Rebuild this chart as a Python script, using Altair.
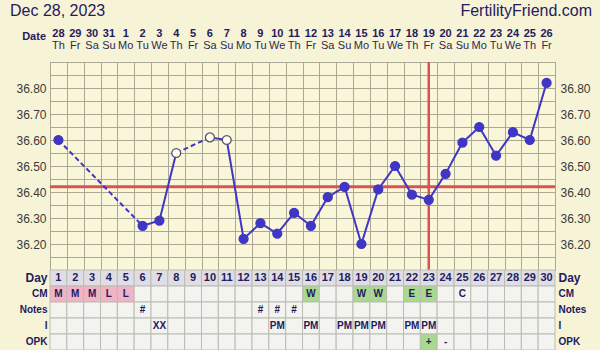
import json
import altair as alt
import pandas as pd

# ---------------- data ----------------
days = list(range(1, 31))
dates = ["28", "29", "30", "31", "1", "2", "3", "4", "5", "6", "7", "8", "9", "10", "11",
         "12", "13", "14", "15", "16", "17", "18", "19", "20", "21", "22", "23", "24", "25", "26"]
weekdays = ["Th", "Fr", "Sa", "Su", "Mo", "Tu", "We", "Th", "Fr", "Sa", "Su", "Mo", "Tu", "We", "Th",
            "Fr", "Sa", "Su", "Mo", "Tu", "We", "Th", "Fr", "Sa", "Su", "Mo", "Tu", "We", "Th", "Fr"]
temps = [36.60, None, None, None, None, 36.27, 36.29, 36.55, None, 36.61,
         36.60, 36.22, 36.28, 36.24, 36.32, 36.27, 36.38, 36.42, 36.20, 36.41,
         36.50, 36.39, 36.37, 36.47, 36.59, 36.65, 36.54, 36.63, 36.60, 36.82]
open_days = [8, 10, 11]
coverline = 36.42
ovulation_day = 23
y_labels = [36.20, 36.30, 36.40, 36.50, 36.60, 36.70, 36.80]
y_domain = [36.10, 36.90]

table_rows = ["Day", "CM", "Notes", "I", "OPK"]
cm_days = [1, 2, 3, 4, 5, 16, 19, 20, 22, 23, 25]
cm_vals = ["M", "M", "M", "L", "L", "W", "W", "W", "E", "E", "C"]
notes_days = [6, 13, 14, 15]
notes_vals = ["#", "#", "#", "#"]
i_days = [7, 14, 16, 18, 19, 20, 22, 23]
i_vals = ["XX", "PM", "PM", "PM", "PM", "PM", "PM", "PM"]
opk_days = [23, 24]
opk_vals = ["+", "-"]

title_text = "Dec 28, 2023"
site_text = "FertilityFriend.com"
date_label = "Date"

# ---------------- styles ----------------
FONT = "Liberation Sans"
NAVY = "#241a5e"
BG = "#f7f3d6"
PLOT_BG = "#faf6da"
GRID = "#aba894"
RED = "#d9534f"
BLUE = "#4036c4"
TBL_GRID = "#bcbbb3"
W = 505

# ---------------- frames ----------------
rec = [(d, t) for d, t in zip(days, temps) if t is not None]
seg_rows = []
for k in range(len(rec) - 1):
    (d0, t0), (d1, t1) = rec[k], rec[k + 1]
    kind = "solid" if d1 - d0 == 1 else "dash"
    seg_rows.append(dict(seg=k, day=d0, temp=t0, kind=kind))
    seg_rows.append(dict(seg=k, day=d1, temp=t1, kind=kind))
df_seg = pd.DataFrame(seg_rows)
df_pts = pd.DataFrame([dict(day=d, temp=t, kind="open" if d in open_days else "filled") for d, t in rec])
df_cover = pd.DataFrame({"temp": [coverline]})
df_ov = pd.DataFrame({"day": [ovulation_day]})

row_entries = {
    "CM": dict(zip(cm_days, cm_vals)),
    "Notes": dict(zip(notes_days, notes_vals)),
    "I": dict(zip(i_days, i_vals)),
    "OPK": dict(zip(opk_days, opk_vals)),
}
fill_of = {"M": "pink", "L": "pink", "W": "green", "E": "green", "+": "green"}
cells = []
for r in table_rows:
    for d in days:
        if r == "Day":
            txt, cat = str(d), "day"
        else:
            txt = row_entries[r].get(d, "")
            cat = fill_of.get(txt, "plain") if r in ("CM", "OPK") else "plain"
        cells.append(dict(row=r, day=d, x1=d - 0.5, x2=d + 0.5, txt=txt, cat=cat))
df_cells = pd.DataFrame(cells)
df_day = df_cells[df_cells.row == "Day"]
df_ann = df_cells[(df_cells.row != "Day") & (df_cells.txt != "")]

df_dates = pd.DataFrame({"day": days, "date": dates, "wd": weekdays})

# ---------------- scales / axes ----------------
xscale = alt.Scale(domain=[0.5, 30.5], nice=False, zero=False)
yscale = alt.Scale(domain=y_domain, nice=False, zero=False)
grid_x = [d - 0.5 for d in days] + [days[-1] + 0.5]
grid_y = [round(y_domain[0] + 0.05 * i, 2) for i in range(17)]
lab_strings = json.dumps([f"{v:.2f}" for v in y_labels])
label_expr = f"indexof({lab_strings}, format(datum.value, '.2f')) >= 0 ? format(datum.value, '.2f') : ''"

x_grid_axis = alt.Axis(values=grid_x, grid=True, labels=False, ticks=False, domain=False,
                       title=None, gridColor=GRID, gridOpacity=1, gridWidth=1)
left_axis = alt.Axis(orient="left", values=grid_y, grid=True, gridColor=GRID, gridOpacity=1,
                     gridWidth=1, labelExpr=label_expr, ticks=False, domain=False, title=None,
                     labelFont=FONT, labelFontSize=12, labelColor="#3a3a3a", labelPadding=4)
right_axis = alt.Axis(orient="right", values=y_labels, grid=False, format=".2f", ticks=False,
                      domain=False, title=None, labelFont=FONT, labelFontSize=12,
                      labelColor="#3a3a3a", labelPadding=5)

# ---------------- header ----------------
one = pd.DataFrame({"a": [1]})
hdr_title = alt.Chart(one).mark_text(align="left", baseline="alphabetic", font=FONT, fontSize=16,
                                     color=NAVY, text=title_text).encode(
    x=alt.value(-40), y=alt.value(15))
hdr_site = alt.Chart(one).mark_text(align="right", baseline="alphabetic", font=FONT, fontSize=16,
                                    color=NAVY, text=site_text).encode(
    x=alt.value(W + 37), y=alt.value(15))
hdr_datelab = alt.Chart(one).mark_text(align="right", baseline="alphabetic", font=FONT, fontSize=11,
                                       fontWeight="bold", color=NAVY, text=date_label).encode(
    x=alt.value(-4), y=alt.value(39))
hdr_dates = alt.Chart(df_dates).mark_text(baseline="alphabetic", font=FONT, fontSize=11,
                                          fontWeight="bold", color=NAVY).encode(
    x=alt.X("day:Q", scale=xscale, axis=None), y=alt.value(36), text="date:N")
hdr_wd = alt.Chart(df_dates).mark_text(baseline="alphabetic", font=FONT, fontSize=11,
                                       color="#2c2a55").encode(
    x=alt.X("day:Q", scale=xscale, axis=None), y=alt.value(48), text="wd:N")
header = alt.layer(hdr_title, hdr_site, hdr_datelab, hdr_dates, hdr_wd).properties(
    width=W, height=61, view=alt.ViewBackground(stroke="transparent", fill="transparent"))

# ---------------- plot ----------------
hline = alt.Chart(df_cover).mark_rule(color=RED, strokeWidth=3).encode(
    y=alt.Y("temp:Q", scale=yscale, axis=left_axis))
vline = alt.Chart(df_ov).mark_rule(color=RED, strokeWidth=2.5).encode(
    x=alt.X("day:Q", scale=xscale, axis=x_grid_axis))
lines = alt.Chart(df_seg).mark_line(color=BLUE, strokeWidth=2).encode(
    x=alt.X("day:Q", scale=xscale, axis=x_grid_axis),
    y=alt.Y("temp:Q", scale=yscale, axis=None),
    detail="seg:N",
    strokeDash=alt.StrokeDash("kind:N", scale=alt.Scale(domain=["solid", "dash"],
                                                         range=[[1, 0], [5, 3]]), legend=None))
points = alt.Chart(df_pts).mark_point(shape="circle", filled=True, size=80, opacity=1,
                                      strokeWidth=1.3).encode(
    x=alt.X("day:Q", scale=xscale, axis=x_grid_axis),
    y=alt.Y("temp:Q", scale=yscale, axis=right_axis),
    fill=alt.Fill("kind:N", scale=alt.Scale(domain=["filled", "open"], range=[BLUE, "#fffdf4"]),
                  legend=None),
    stroke=alt.Stroke("kind:N", scale=alt.Scale(domain=["filled", "open"], range=[BLUE, "#55556a"]),
                      legend=None))
plot = alt.layer(hline, vline, lines, points).resolve_axis(y="independent").properties(
    width=W, height=208, view=alt.ViewBackground(fill=PLOT_BG, stroke=GRID, strokeWidth=1))

# ---------------- table ----------------
rowscale = alt.Scale(domain=table_rows, paddingInner=0, paddingOuter=0)
row_font_size = {"condition": {"test": "datum.value == 'Day'", "value": 12}, "value": 10}
tbl_left = alt.Axis(orient="left", ticks=False, domain=False, title=None, labelFont=FONT,
                    labelFontSize=row_font_size, labelFontWeight="bold", labelColor=NAVY,
                    labelPadding=3)
tbl_right = alt.Axis(orient="right", ticks=False, domain=False, title=None, labelFont=FONT,
                     labelFontSize=row_font_size, labelFontWeight="bold", labelColor=NAVY,
                     labelPadding=3)
cells_l = alt.Chart(df_cells).mark_rect(stroke=TBL_GRID, strokeWidth=1).encode(
    x=alt.X("x1:Q", scale=xscale, axis=None), x2="x2:Q",
    y=alt.Y("row:N", scale=rowscale, axis=tbl_left, sort=table_rows),
    fill=alt.Fill("cat:N", scale=alt.Scale(domain=["day", "plain", "pink", "green"],
                                           range=["#dfdee4", "#f3f3ef", "#f2b3c5", "#a9d98f"]),
                  legend=None))
day_txt = alt.Chart(df_day).mark_text(font=FONT, fontSize=11, fontWeight="bold", color=NAVY,
                                      baseline="middle").encode(
    x=alt.X("day:Q", scale=xscale, axis=None),
    y=alt.Y("row:N", scale=rowscale, axis=tbl_right, sort=table_rows), text="txt:N")
ann_txt = alt.Chart(df_ann).mark_text(font=FONT, fontSize=10, fontWeight="bold", color=NAVY,
                                      baseline="middle").encode(
    x=alt.X("day:Q", scale=xscale, axis=None),
    y=alt.Y("row:N", scale=rowscale, axis=None, sort=table_rows), text="txt:N")
table = alt.layer(cells_l, day_txt, ann_txt).resolve_axis(y="independent").properties(
    width=W, height=80, view=alt.ViewBackground(stroke="transparent", fill="transparent"))

chart = alt.vconcat(header, plot, table, spacing=0, bounds="flush").resolve_scale(
    x="independent", y="independent", fill="independent", stroke="independent",
    strokeDash="independent").properties(
    padding={"left": 9, "top": 0, "right": 7, "bottom": 0}, background=BG)

chart.save("out.html", embed_options={"renderer": "svg", "actions": False})
